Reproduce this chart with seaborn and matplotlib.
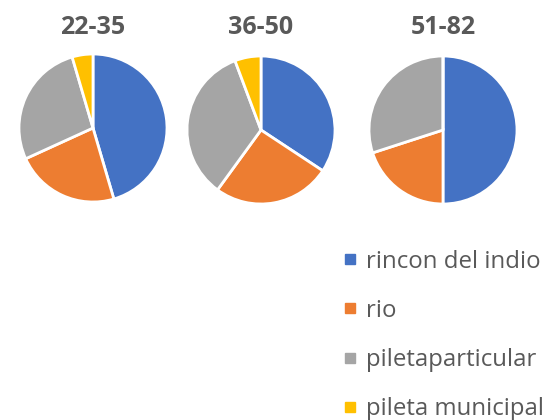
import matplotlib
matplotlib.use("Agg")
import matplotlib.pyplot as plt
from matplotlib.lines import Line2D
import seaborn as sns

# Respondents per age group, split by preferred bathing spot
age_groups = ["22-35", "36-50", "51-82"]
places = ["rincon del indio", "rio", "piletaparticular", "pileta municipal"]
rincon_del_indio = [10, 12, 5]
rio = [5, 9, 2]
pileta_particular = [6, 12, 3]
pileta_municipal = [1, 2, 0]

colors = ["#4472C4", "#ED7D31", "#A5A5A5", "#FFC000"]
text_color = "#595959"

sns.set_theme(style="white")
plt.rcParams["font.family"] = ["Open Sans", "DejaVu Sans"]

W, H = 555, 420
fig = plt.figure(figsize=(W / 100, H / 100), dpi=100)

# pie centres and radius in pixels
centres = [(93, 128), (261, 130), (443, 130)]
radius = 74

series = list(zip(rincon_del_indio, rio, pileta_particular, pileta_municipal))
for (cx, cy), title, vals in zip(centres, age_groups, series):
    ax = fig.add_axes([(cx - radius) / W, (H - cy - radius) / H,
                       2 * radius / W, 2 * radius / H])
    ax.pie(vals, colors=colors, startangle=90, counterclock=False,
           radius=1.0, wedgeprops=dict(edgecolor="white", linewidth=2.0))
    ax.set_xlim(-1, 1)
    ax.set_ylim(-1, 1)
    ax.set_aspect("equal")
    ax.axis("off")
    fig.text(cx / W, 1 - 27 / H, title, ha="center", va="center",
             fontsize=18, fontweight="bold", color=text_color)

handles = [Line2D([0], [0], marker="s", linestyle="none", markersize=7.5,
                  markerfacecolor=c, markeredgecolor=c) for c in colors]
leg = fig.legend(handles, places, loc="upper left",
                 bbox_to_anchor=(334 / W, 1 - 240 / H), frameon=False,
                 fontsize=17.3, labelcolor=text_color, handlelength=0.5,
                 handletextpad=0.45, labelspacing=1.05, borderaxespad=0)

fig.savefig("out.png", dpi=100, facecolor="white")
